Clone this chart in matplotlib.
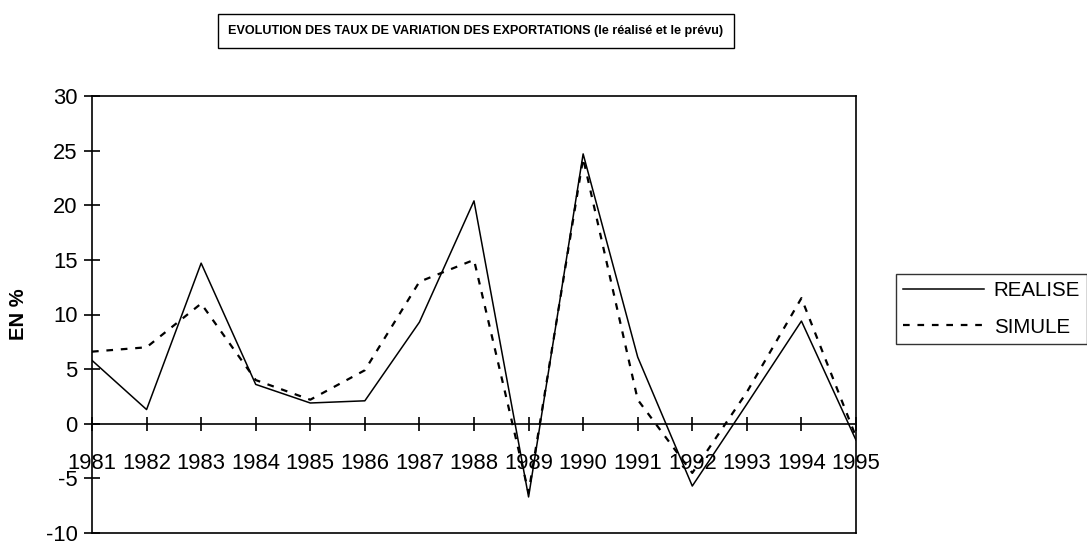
import numpy as np
import matplotlib
matplotlib.use('Agg')
import matplotlib.pyplot as plt

plt.rcParams['font.family'] = ['Liberation Sans', 'DejaVu Sans']
plt.rcParams['axes.unicode_minus'] = False

years = list(range(1981, 1996))
realise = [5.8, 1.3, 14.7, 3.6, 1.9, 2.1, 9.3, 20.4, -6.7, 24.7, 6.1, -5.7, 1.8, 9.4, -1.5]
simule = [6.6, 7.0, 11.0, 4.0, 2.2, 4.9, 13.0, 15.0, -6.3, 24.3, 2.2, -4.5, 2.9, 11.5, -1.2]

fig = plt.figure(figsize=(10.87, 5.43), dpi=100)
ax = fig.add_axes([92/1087, 1-533/543, (856-92)/1087, (533-96)/543])

ax.plot(years, realise, color='black', lw=1.1, label='REALISE')
ax.plot(years, simule, color='black', lw=1.6, ls=(0, (3, 3.5)), label='SIMULE')

ax.set_xlim(1981, 1995)
ax.set_ylim(-10, 30)
ax.set_yticks(range(-10, 31, 5))
for s in ax.spines.values():
    s.set_linewidth(1.2)
ax.tick_params(axis='y', direction='inout', length=11, width=1.2, pad=5, labelsize=15.8)
ax.tick_params(axis='x', bottom=False, labelbottom=False)

# x axis drawn on the zero line
sec = ax.secondary_xaxis(0.25)
sec.set_xticks(years)
sec.set_xticklabels([str(y) for y in years])
sec.spines['bottom'].set_linewidth(1.2)
sec.tick_params(direction='inout', length=9.5, width=1.2, pad=16, labelsize=15.8)

ax.set_ylabel('EN %', fontsize=14.5, fontweight='bold')
ax.yaxis.set_label_coords(-0.084, 0.5)

fig.text(476/1087, 1-31/543, 'EVOLUTION DES TAUX DE VARIATION DES EXPORTATIONS (le réalisé et le prévu)',
         ha='center', va='center', fontsize=9.1, fontweight='bold',
         bbox=dict(boxstyle='square,pad=0.85', fc='white', ec='black', lw=1))

leg = fig.legend(loc='upper left', bbox_to_anchor=(896/1087, 1-274/543), fontsize=14.8,
                 frameon=True, fancybox=False, edgecolor='black', handlelength=3.95,
                 handletextpad=0.45, borderpad=0.35, labelspacing=0.85, borderaxespad=0)
leg.get_frame().set_linewidth(1)

fig.savefig('out.png', dpi=100)
